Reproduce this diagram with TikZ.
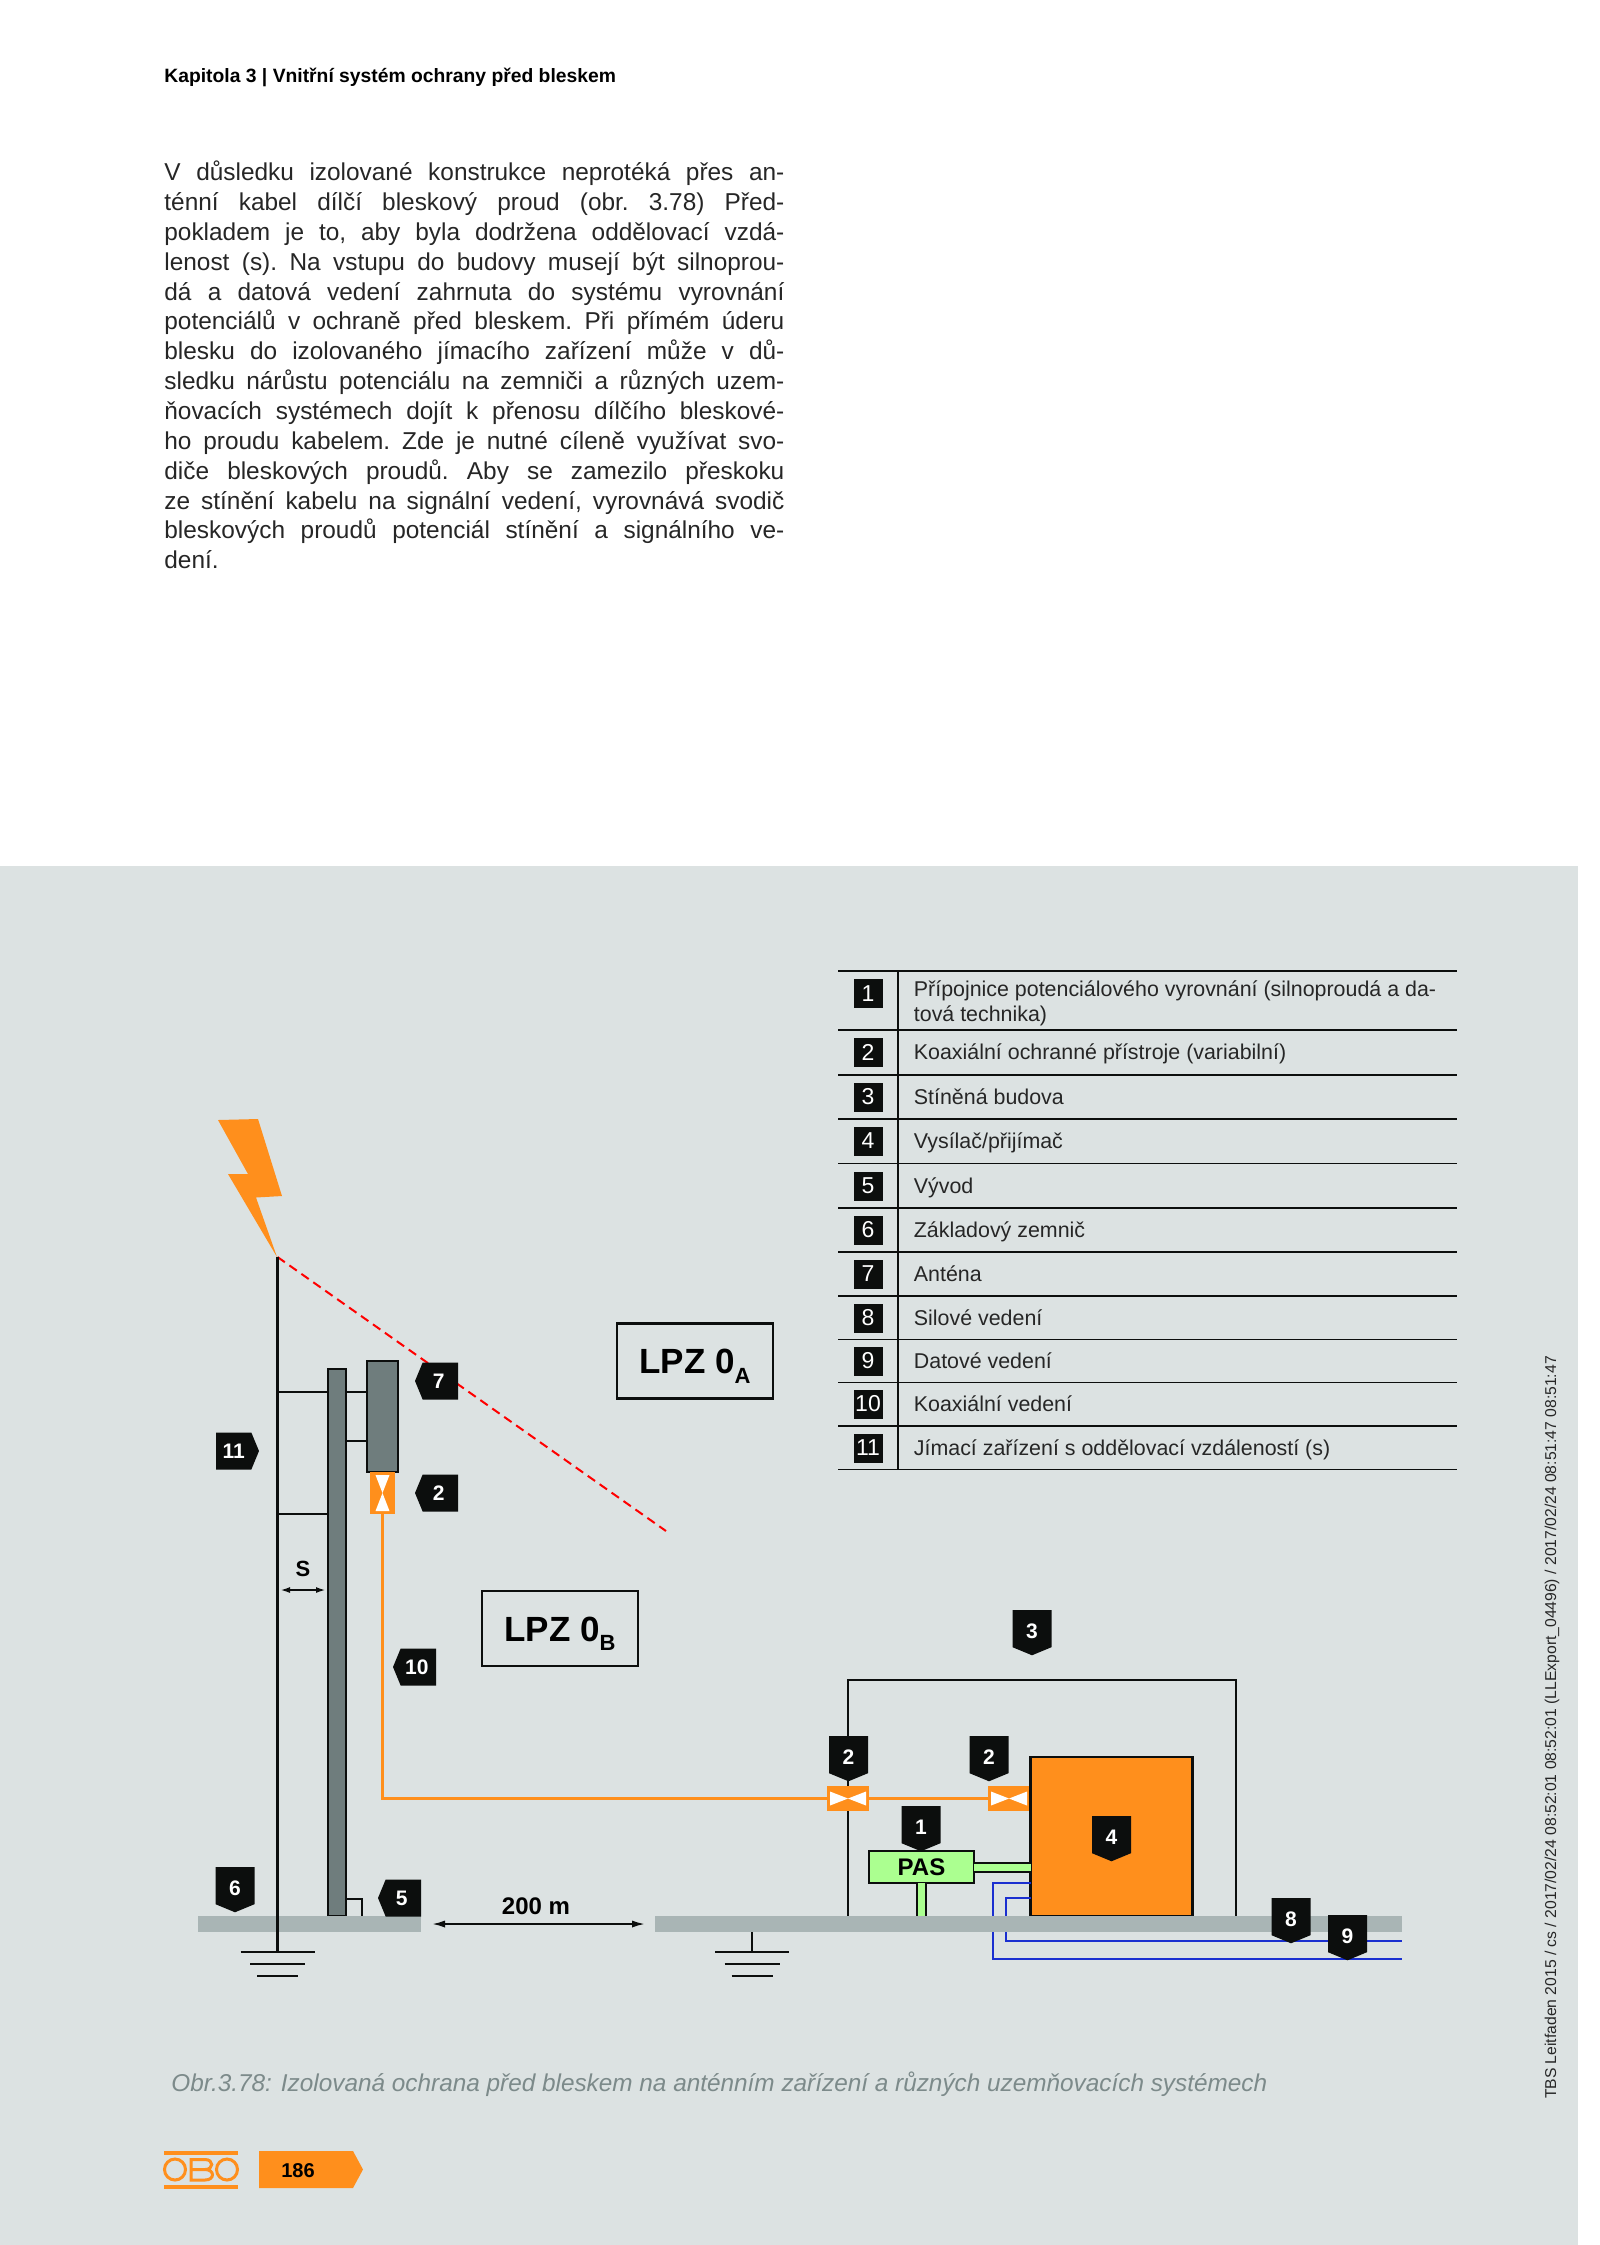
\documentclass[tikz,border=0pt]{standalone}
\usepackage{fontspec}
\setmainfont{Liberation Sans}
\usepackage{tikz}
\usetikzlibrary{shapes,arrows.meta}

\definecolor{panelgrey}{HTML}{DCE2E2}
\definecolor{earthgrey}{HTML}{A9B5B5}
\definecolor{mastgrey}{HTML}{6F7D7D}
\definecolor{oboorange}{HTML}{FF8F1C}
\definecolor{pasgreen}{HTML}{ABFF90}
\definecolor{databblue}{HTML}{1A2FD0}
\definecolor{captiongrey}{HTML}{7C8A8A}
\definecolor{tagblack}{HTML}{0C0E0D}

\tikzset{
	wire/.style={line width=1.3pt,draw=tagblack},
	coax/.style={line width=1.2pt,draw=oboorange},
	dataline/.style={line width=1.1pt,draw=databblue},
	peline/.style={draw=tagblack,line width=1pt,double=pasgreen,double distance=3.4pt},
	sizearrow/.style={<->,>={Latex[length=6.5pt,width=3.6pt]},line width=1pt,draw=tagblack},
	tagbase/.style={shape=signal,fill=tagblack,text=white,inner sep=0pt,outer sep=0pt,signal pointer angle=135,font=\bfseries\fontsize{10.5}{10.5}\selectfont},
	tagdown/.style={tagbase,signal to=south,minimum width=19.5pt,minimum height=19.8pt,anchor=north,text height=9.6pt,text depth=0pt},
	tagleft/.style={tagbase,signal to=west,minimum width=21.5pt,minimum height=18.5pt,anchor=east,execute at begin node=\hspace*{-1.5pt}},
	tagright/.style={tagbase,signal to=east,minimum width=21.5pt,minimum height=18.5pt,anchor=west},
	metalbox/.style={draw=tagblack,fill=mastgrey,line width=1.3pt,inner sep=0pt,outer sep=0pt},
	groundbar/.style={fill=earthgrey,minimum height=8pt,inner sep=0pt,outer sep=0pt},
	lpzbox/.style={draw=tagblack,line width=1.3pt,minimum width=78pt,minimum height=37.5pt,inner sep=0pt,text height=12.6pt,text depth=0pt,font=\bfseries\fontsize{17.5}{18}\selectfont},
	protbase/.style={fill=oboorange,inner sep=0pt,outer sep=0pt},
	prothoriz/.style={protbase,minimum width=21pt,minimum height=12.5pt,path picture={
		\fill[white,shift={(path picture bounding box.center)}] (0,0) -- (-18,-7) -- (-18,7) -- cycle (0,0) -- (18,-7) -- (18,7) -- cycle;}},
	protvert/.style={protbase,minimum width=12.5pt,minimum height=21pt,path picture={
		\fill[white,shift={(path picture bounding box.center)}] (0,0) -- (-7,-18) -- (7,-18) -- cycle (0,0) -- (-7,18) -- (7,18) -- cycle;}},
	numbox/.style={fill=tagblack,text=white,minimum size=14.5pt,inner sep=0pt,font=\fontsize{11.5}{12}\selectfont},
	rowtext/.style={anchor=base west,inner sep=0pt,text=black!85,font=\fontsize{10.7}{12.5}\selectfont},
	earthsym/.pic={
		\draw[wire] (-37,0) -- (37,0);
		\draw[wire] (-27.5,12) -- (27.5,12);
		\draw[wire] (-20.5,24) -- (20.5,24);},
}
\newcommand{\lpzsub}[1]{\raisebox{-.28em}{\fontsize{11}{11}\selectfont #1}}

\begin{document}
\begin{tikzpicture}[x=.5pt,y=-.5pt]
	\useasboundingbox (0,0) rectangle (1600,2245);
	\fill[white] (0,0) rectangle (1600,2245);
	\fill[panelgrey] (0,866) rectangle (1578,2245);

	% page text
	\node[anchor=base west,inner sep=0pt,font=\bfseries\fontsize{9.65}{12}\selectfont] (chapter) at (164,82) {Kapitola 3 | Vnitřní systém ochrany před bleskem};
	\node[anchor=north west,inner sep=0pt,text width=310pt,align=justify,text=black!85,font=\frenchspacing\fontsize{12.2}{14.93}\selectfont] (bodytext) at (164,160.5) {V důsledku izolované konstrukce neprotéká přes an-\linebreak
ténní kabel dílčí bleskový proud (obr. 3.78) Před-\linebreak
pokladem je to, aby byla dodržena oddělovací vzdá-\linebreak
lenost (s). Na vstupu do budovy musejí být silnoprou-\linebreak
dá a datová vedení zahrnuta do systému vyrovnání\linebreak
potenciálů v ochraně před bleskem. Při přímém úderu\linebreak
blesku do izolovaného jímacího zařízení může v dů-\linebreak
sledku nárůstu potenciálu na zemniči a různých uzem-\linebreak
ňovacích systémech dojít k přenosu dílčího bleskové-\linebreak
ho proudu kabelem. Zde je nutné cíleně využívat svo-\linebreak
diče bleskových proudů. Aby se zamezilo přeskoku\linebreak
ze stínění kabelu na signální vedení, vyrovnává svodič\linebreak
bleskových proudů potenciál stínění a signálního ve-\linebreak
dení.};

	% legend table
	\foreach \ypos in {971,1030,1075,1119,1163.5,1208,1252,1296,1339.5,1382.5,1426,1469.5}
		\draw[line width=.7pt,draw=tagblack] (838,\ypos) -- (1456.5,\ypos);
	\draw[line width=.7pt,draw=tagblack] (898,971) -- (898,1469.5);
	\foreach \n/\ypos/\txt in {2/1052.5/Koaxiální ochranné přístroje (variabilní),3/1097/Stíněná budova,4/1141/Vysílač\slash přijímač,5/1186/Vývod,6/1230/Základový zemnič,7/1274/Anténa,8/1318/Silové vedení,9/1361/Datové vedení,10/1404/Koaxiální vedení,11/1448/Jímací zařízení s oddělovací vzdáleností (s)}{
		\node[numbox] (num\n) at (868,\ypos) {\n};
		\node[rowtext] (row\n) at (913.5,{\ypos+7}) {\txt};
	}
	\node[numbox] (num1) at (868,993.5) {1};
	\node[rowtext,anchor=west,align=left] (row1) at (913.5,1003) {Přípojnice potenciálového vyrovnání (silnoproudá a da-\\tová technika)};

	% isolated air termination and antenna
	\coordinate (rodtop) at (277.5,1257);
	\coordinate (rodfoot) at (277.5,1952);
	\coordinate (zoneend) at (666,1531);
	\coordinate (brk) at (362,1899);
	\coordinate (sleft) at (280,1590);
	\coordinate (sright) at (326,1590);
	\coordinate (distleft) at (432,1924);
	\coordinate (distright) at (645,1924);
	\coordinate (earthB) at (752,1952);
	\coordinate (bldleft) at (848,1916);
	\coordinate (bldtop) at (1040,1680);
	\coordinate (bldright) at (1236,1916);
	\fill[oboorange] (218,1120) -- (258,1119) -- (282,1196) -- (256,1197.5) -- (277,1257) -- (228,1174) -- (248,1174) -- cycle;
	\draw[red,line width=1pt,dash pattern=on 4.5pt off 2.8pt] (rodtop) -- (zoneend);
	\node[metalbox,minimum width=9pt,minimum height=273.5pt] (mast) at (337,1642.5) {};
	\node[metalbox,minimum width=15.5pt,minimum height=55.5pt] (antenna) at (382.5,1416.5) {};
	\draw[wire] (rodtop |- 0,1392) -- (mast.west |- 0,1392);
	\draw[wire] (rodtop |- 0,1514) -- (mast.west |- 0,1514);
	\draw[wire] (mast.east |- 0,1392) -- (antenna.west |- 0,1392);
	\draw[wire] (mast.east |- 0,1441) -- (antenna.west |- 0,1441);
	\draw[wire] (brk -| mast.east) -- (brk) -- (brk |- 0,1916);

	% building and cables
	\node[protvert] (protant) at (382.5,1493) {};
	\draw[wire] (bldleft) |- (bldtop) -| (bldright);
	\node[prothoriz] (protin) at (848,1798.5) {};
	\node[prothoriz] (protout) at (1009,1798.5) {};
	\node[draw=tagblack,fill=oboorange,line width=1.3pt,minimum width=81pt,minimum height=79.5pt,inner sep=0pt,outer sep=0pt] (device) at (1111.5,1836.5) {};
	\node[draw=tagblack,fill=pasgreen,line width=1.3pt,minimum width=52.5pt,minimum height=16pt,inner sep=0pt,outer sep=0pt,text height=8.6pt,text depth=0pt,font=\bfseries\fontsize{12}{12}\selectfont] (pas) at (921.5,1867) {PAS};
	\draw[coax] (protant.south) |- (protin.west);
	\draw[coax] (protin.east) -- (protout.west);
	\draw[dataline] (device.west |- 0,1883) -| (993,1959) -- (1402,1959);
	\draw[dataline] (device.west |- 0,1898) -| (1006,1941) -- (1402,1941);
	\draw[peline] (pas.east |- 0,1867.5) -- (device.west |- 0,1867.5);
	\draw[peline] (pas.south) -- (pas.south |- 0,1916);

	% earth
	\node[groundbar,minimum width=111.5pt] (groundA) at (309.5,1924) {};
	\node[groundbar,minimum width=373.5pt] (groundB) at (1028.5,1924) {};
	\draw[wire] (rodtop) -- (rodfoot);
	\draw[wire] (groundB.south -| earthB) -- (earthB);
	\pic at (rodfoot) {earthsym};
	\pic at (earthB) {earthsym};

	% zones and dimensions
	\node[lpzbox] (zoneA) at (695,1361) {LPZ 0\lpzsub{A}};
	\node[lpzbox] (zoneB) at (560,1628.5) {LPZ 0\lpzsub{B}};
	\draw[sizearrow,>={Latex[length=5pt,width=3pt]}] (sleft) -- (sright);
	\node[font=\bfseries\fontsize{11}{11}\selectfont] (slabel) at (303,1569) {S};
	\draw[sizearrow] (distleft) -- (distright);
	\node[font=\bfseries\fontsize{12}{12}\selectfont] (distlabel) at (536,1906) {200 m};

	% number tags
	\node[tagleft] (tagseven) at (458,1381) {7};
	\node[tagleft] (tagtwoA) at (458,1493) {2};
	\node[tagright] (tageleven) at (216,1451) {11};
	\node[tagleft] (tagten) at (436,1667) {10};
	\node[tagdown] (tagsix) at (235,1867) {6};
	\node[tagleft] (tagfive) at (421,1898) {5};
	\node[tagdown] (tagthree) at (1032,1610) {3};
	\node[tagdown] (tagtwoB) at (848.5,1736) {2};
	\node[tagdown] (tagtwoC) at (989,1736) {2};
	\node[tagdown] (tagone) at (921,1806) {1};
	\node[tagdown] (tagfour) at (1111.5,1816) {4};
	\node[tagdown] (tageight) at (1291,1898) {8};
	\node[tagdown] (tagnine) at (1347.5,1915) {9};

	% footer
	\node[anchor=west,inner sep=0pt,text=captiongrey,font=\itshape\fontsize{12.17}{14}\selectfont] (caption) at (171,2084.5) {Obr.3.78: Izolovaná ochrana před bleskem na anténním zařízení a různých uzemňovacích systémech};
	\fill[oboorange] (164,2151) rectangle (238,2155);
	\fill[oboorange] (164,2185) rectangle (238,2188.5);
	\draw[draw=oboorange,line width=1.5pt] (175,2169.5) circle (10.5);
	\draw[draw=oboorange,line width=1.5pt] (227,2169.5) circle (10.5);
	\draw[draw=oboorange,line width=1.5pt] (191,2159.5) -- (205,2159.5) .. controls (214,2159.5) and (214,2169.5) .. (205,2169.5) .. controls (215,2169.5) and (215,2180) .. (205,2180) -- (191,2180) -- cycle (191,2169.5) -- (205,2169.5);
	\fill[oboorange] (259,2151) -- (353,2151) -- (363,2169.5) -- (353,2188) -- (259,2188) -- cycle;
	\node[font=\fontsize{10}{10}\selectfont,text=black] (pagenum) at (298,2171) {\bfseries 186};
	\node[rotate=90,inner sep=0pt,text=black!85,font=\fontsize{7.85}{9}\selectfont] (sideline) at (1552,1727.5) {TBS Leitfaden 2015 / cs / 2017/02/24 08:52:01 08:52:01 (LLExport\_04496) / 2017/02/24 08:51:47 08:51:47};
\end{tikzpicture}
\end{document}
